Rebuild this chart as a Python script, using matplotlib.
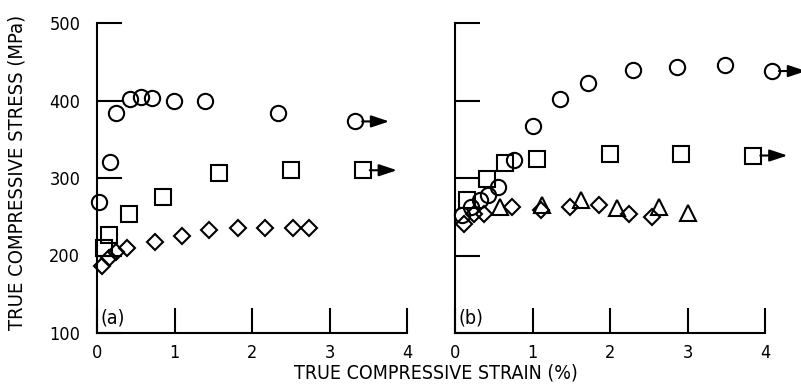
import matplotlib
matplotlib.use('Agg')
import matplotlib.pyplot as plt

plt.rcParams['font.family'] = ['DejaVu Sans']
plt.rcParams['font.stretch'] = 'condensed'

# panel (a)
a_circ_x = [0.02, 0.17, 0.25, 0.42, 0.57, 0.71, 0.99, 1.39, 2.34, 3.33]
a_circ_y = [269, 321, 384, 402, 404, 403, 399, 400, 384, 373]
a_sq_x = [0.09, 0.16, 0.41, 0.85, 1.57, 2.50, 3.43]
a_sq_y = [210, 227, 253, 276, 306, 310, 310]
a_dia_x = [0.06, 0.15, 0.25, 0.39, 0.75, 1.10, 1.45, 1.82, 2.17, 2.53, 2.74]
a_dia_y = [186, 197, 205, 210, 218, 225, 233, 236, 236, 236, 236]

# panel (b)
b_circ_x = [0.09, 0.20, 0.32, 0.43, 0.56, 0.76, 1.00, 1.35, 1.71, 2.30, 2.86, 3.48, 4.09]
b_circ_y = [252, 262, 271, 278, 288, 323, 367, 402, 422, 439, 443, 446, 438]
b_sq_x = [0.15, 0.41, 0.64, 1.06, 2.00, 2.92, 3.85]
b_sq_y = [271, 299, 320, 325, 331, 331, 329]
b_dia_x = [0.11, 0.24, 0.37, 0.73, 1.11, 1.49, 1.86, 2.25, 2.54]
b_dia_y = [241, 254, 254, 262, 259, 263, 265, 253, 250]
b_tri_x = [0.58, 1.12, 1.63, 2.09, 2.63, 3.01]
b_tri_y = [262, 265, 272, 261, 263, 255]

x_ticks = [0, 1, 2, 3, 4]
y_ticks = [100, 200, 300, 400, 500]

fig = plt.figure(figsize=(8.01, 3.86), dpi=100)
ax_a = fig.add_axes([97 / 801, 53 / 386, 310 / 801, 310 / 386])
ax_b = fig.add_axes([455 / 801, 53 / 386, 310 / 801, 310 / 386])

mk = dict(linestyle='none', markerfacecolor='none', markeredgecolor='k', markeredgewidth=1.5, clip_on=False)


def arrow(ax, x, y):
    ax.annotate('', xy=(x + 0.44, y), xytext=(x, y), annotation_clip=False,
                arrowprops=dict(arrowstyle='-|>,head_length=0.9,head_width=0.3', mutation_scale=12,
                                shrinkA=5, shrinkB=0, lw=1.5, color='k'))


ax_a.plot(a_circ_x, a_circ_y, marker='o', markersize=11, **mk)
ax_a.plot(a_sq_x, a_sq_y, marker='s', markersize=11, **mk)
ax_a.plot(a_dia_x, a_dia_y, marker='D', markersize=8.5, **mk)
arrow(ax_a, a_circ_x[-1], a_circ_y[-1])
arrow(ax_a, a_sq_x[-1], a_sq_y[-1])

ax_b.plot(b_circ_x, b_circ_y, marker='o', markersize=11, **mk)
ax_b.plot(b_sq_x, b_sq_y, marker='s', markersize=11, **mk)
ax_b.plot(b_dia_x, b_dia_y, marker='D', markersize=8.5, **mk)
ax_b.plot(b_tri_x, b_tri_y, marker='^', markersize=11, **mk)
arrow(ax_b, b_circ_x[-1], b_circ_y[-1])
arrow(ax_b, b_sq_x[-1], b_sq_y[-1])

for ax, lab in [(ax_a, '(a)'), (ax_b, '(b)')]:
    ax.set_xlim(0, 4)
    ax.set_ylim(100, 500)
    for s in ['top', 'right']:
        ax.spines[s].set_visible(False)
    for s in ['left', 'bottom']:
        ax.spines[s].set_linewidth(1.5)
    ax.set_xticks(x_ticks)
    ax.set_yticks(y_ticks)
    ax.tick_params(direction='in', length=18, width=1.5, labelsize=13)
    ax.tick_params(axis='x', pad=8)
    ax.tick_params(axis='y', pad=12)
    ax.text(0.04, 120, lab, fontsize=14, va='center', ha='left')

ax_b.tick_params(axis='y', labelleft=False)
fig.text(17 / 801, 1 - 172 / 386, 'TRUE COMPRESSIVE STRESS (MPa)', fontsize=14.5, rotation=90,
         ha='center', va='center')
fig.text(436 / 801, 1 - 373 / 386, 'TRUE COMPRESSIVE STRAIN (%)', fontsize=14, ha='center', va='center')

fig.savefig('out.png', dpi=100)
